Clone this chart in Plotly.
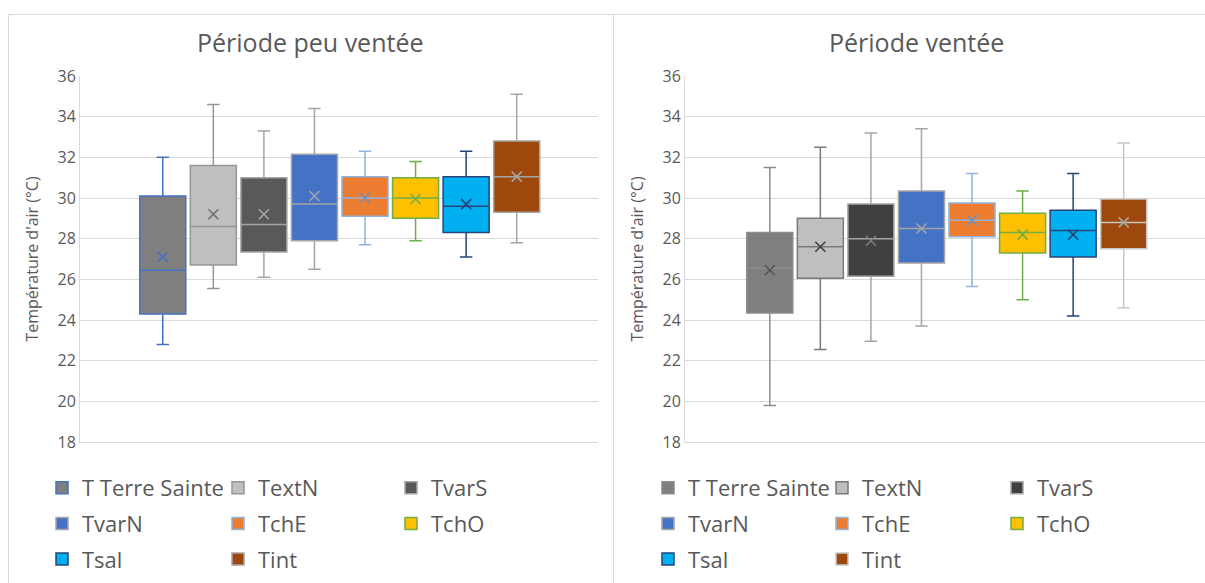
import plotly.graph_objects as go

# ---------------- data ----------------
series = ["T Terre Sainte", "TextN", "TvarS", "TvarN", "TchE", "TchO", "Tsal", "Tint"]
panel_titles = ["Période peu ventée", "Période ventée"]
y_title = "Température d'air (°C)"
y_ticks = [18, 20, 22, 24, 26, 28, 30, 32, 34, 36]

# Période peu ventée
calm_min = [22.8, 25.55, 26.1, 26.5, 27.7, 27.9, 27.1, 27.8]
calm_q1 = [24.3, 26.7, 27.35, 27.9, 29.1, 29.0, 28.3, 29.3]
calm_median = [26.45, 28.6, 28.7, 29.7, 30.0, 30.0, 29.6, 31.05]
calm_q3 = [30.1, 31.6, 31.0, 32.15, 31.05, 31.0, 31.05, 32.8]
calm_max = [32.0, 34.6, 33.3, 34.4, 32.3, 31.8, 32.3, 35.1]
calm_mean = [27.1, 29.2, 29.2, 30.1, 30.0, 29.95, 29.7, 31.05]

# Période ventée
windy_min = [19.8, 22.55, 22.95, 23.7, 25.65, 25.0, 24.2, 24.6]
windy_q1 = [24.35, 26.05, 26.15, 26.8, 28.1, 27.3, 27.1, 27.5]
windy_median = [26.55, 27.6, 28.0, 28.5, 28.9, 28.3, 28.4, 28.8]
windy_q3 = [28.3, 29.0, 29.7, 30.35, 29.75, 29.25, 29.4, 29.95]
windy_max = [31.5, 32.5, 33.2, 33.4, 31.2, 30.35, 31.2, 32.7]
windy_mean = [26.45, 27.6, 27.9, 28.5, 28.9, 28.2, 28.2, 28.8]

# ---------------- styles ----------------
calm_fill = ["#7F7F7F", "#BFBFBF", "#595959", "#4472C4", "#ED7D31", "#FFC000", "#00B0F0", "#9E480E"]
calm_line = ["#4472C4", "#969696", "#A5A5A5", "#A5A5A5", "#8FB3DE", "#70AD47", "#264478", "#A5A5A5"]
calm_mean_col = ["#4472C4", "#6E6E6E", "#A5A5A5", "#A5A5A5", "#6F8FB8", "#70AD47", "#264478", "#A5A5A5"]

windy_fill = ["#7F7F7F", "#BFBFBF", "#404040", "#4472C4", "#ED7D31", "#FFC000", "#00B0F0", "#9E480E"]
windy_line = ["#8C8C8C", "#7A7A7A", "#A5A5A5", "#A5A5A5", "#8FB3DE", "#70AD47", "#264478", "#C8C8C8"]
windy_mean_col = ["#595959", "#404040", "#7F7F7F", "#A5A5A5", "#6F8FB8", "#70AD47", "#264478", "#A5A5A5"]

TXT = "#595959"
GRID = "#D9D9D9"
FONT = "Open Sans"

W, H = 1205, 583

fig = go.Figure()

panels = [
    dict(mn=calm_min, q1=calm_q1, med=calm_median, q3=calm_q3, mx=calm_max, mean=calm_mean,
         fill=calm_fill, line=calm_line, meanc=calm_mean_col, xa="x", ya="y",
         legends=["legend", "legend2", "legend3"], tag="a"),
    dict(mn=windy_min, q1=windy_q1, med=windy_median, q3=windy_q3, mx=windy_max, mean=windy_mean,
         fill=windy_fill, line=windy_line, meanc=windy_mean_col, xa="x2", ya="y2",
         legends=["legend4", "legend5", "legend6"], tag="b"),
]

for p in panels:
    for i, name in enumerate(series):
        fig.add_trace(go.Box(
            x=[i], q1=[p["q1"][i]], median=[p["med"][i]], q3=[p["q3"][i]],
            lowerfence=[p["mn"][i]], upperfence=[p["mx"][i]],
            name=name, width=0.91, whiskerwidth=0.27,
            fillcolor=p["fill"][i], line=dict(color=p["line"][i], width=1.5),
            boxpoints=False, xaxis=p["xa"], yaxis=p["ya"],
            legend=p["legends"][i % 3], legendgroup=p["tag"] + name,
        ))
    for i, name in enumerate(series):
        fig.add_trace(go.Scatter(
            x=[i], y=[p["mean"][i]], mode="markers", showlegend=False,
            marker=dict(symbol="x-thin", size=10, line=dict(width=1.6, color=p["meanc"][i])),
            xaxis=p["xa"], yaxis=p["ya"], hoverinfo="skip",
        ))

def px_x(v):
    return v / W

def px_y(v):
    return 1 - v / H

ydom = [px_y(442), px_y(76)]

axis_y = dict(range=[18, 36], tickvals=y_ticks, showgrid=True, gridcolor=GRID, gridwidth=1,
              showline=True, linecolor=GRID, linewidth=1, zeroline=False, ticks="",
              tickfont=dict(family=FONT, size=16, color=TXT),
              title=dict(text=y_title, font=dict(family=FONT, size=16, color=TXT), standoff=14),
              domain=ydom)
axis_x = dict(showgrid=False, zeroline=False, showline=True, linecolor=GRID, linewidth=1,
              showticklabels=False, ticks="")

legend_common = dict(orientation="v", yanchor="top", xanchor="left", y=px_y(467),
                     font=dict(family=FONT, size=22, color=TXT), bgcolor="rgba(0,0,0,0)",
                     tracegroupgap=4, itemwidth=30)
leg_x = [42, 218, 391, 648, 822, 997]

fig.update_layout(
    width=W, height=H,
    margin=dict(l=0, r=0, t=0, b=0, autoexpand=False),
    paper_bgcolor="white", plot_bgcolor="white",
    showlegend=True,
    xaxis=dict(axis_x, domain=[px_x(80), px_x(598)], range=[-1.637, 8.608]),
    xaxis2=dict(axis_x, domain=[px_x(685), 1.0], range=[-1.677, 8.608], anchor="y2"),
    yaxis=dict(axis_y, anchor="x"),
    yaxis2=dict(axis_y, anchor="x2"),
    legend=dict(legend_common, x=px_x(leg_x[0])),
    legend2=dict(legend_common, x=px_x(leg_x[1])),
    legend3=dict(legend_common, x=px_x(leg_x[2])),
    legend4=dict(legend_common, x=px_x(leg_x[3])),
    legend5=dict(legend_common, x=px_x(leg_x[4])),
    legend6=dict(legend_common, x=px_x(leg_x[5])),
    annotations=[
        dict(text=panel_titles[0], x=px_x(310), y=px_y(42), xref="paper", yref="paper",
             xanchor="center", yanchor="middle",
             showarrow=False, font=dict(family=FONT, size=25, color=TXT)),
        dict(text=panel_titles[1], x=px_x(916), y=px_y(42), xref="paper", yref="paper",
             xanchor="center", yanchor="middle",
             showarrow=False, font=dict(family=FONT, size=25, color=TXT)),
    ],
    shapes=[
        dict(type="rect", xref="paper", yref="paper", x0=px_x(8.5), x1=px_x(1215),
             y0=px_y(600), y1=px_y(14.5), line=dict(color=GRID, width=1), layer="below"),
        dict(type="line", xref="paper", yref="paper", x0=px_x(613.5), x1=px_x(613.5),
             y0=px_y(600), y1=px_y(14.5), line=dict(color=GRID, width=1.2), layer="below"),
    ],
)

fig.write_html("out.html", config={"displayModeBar": False},
               post_script="document.body.style.margin='0';document.body.style.overflow='hidden';")
